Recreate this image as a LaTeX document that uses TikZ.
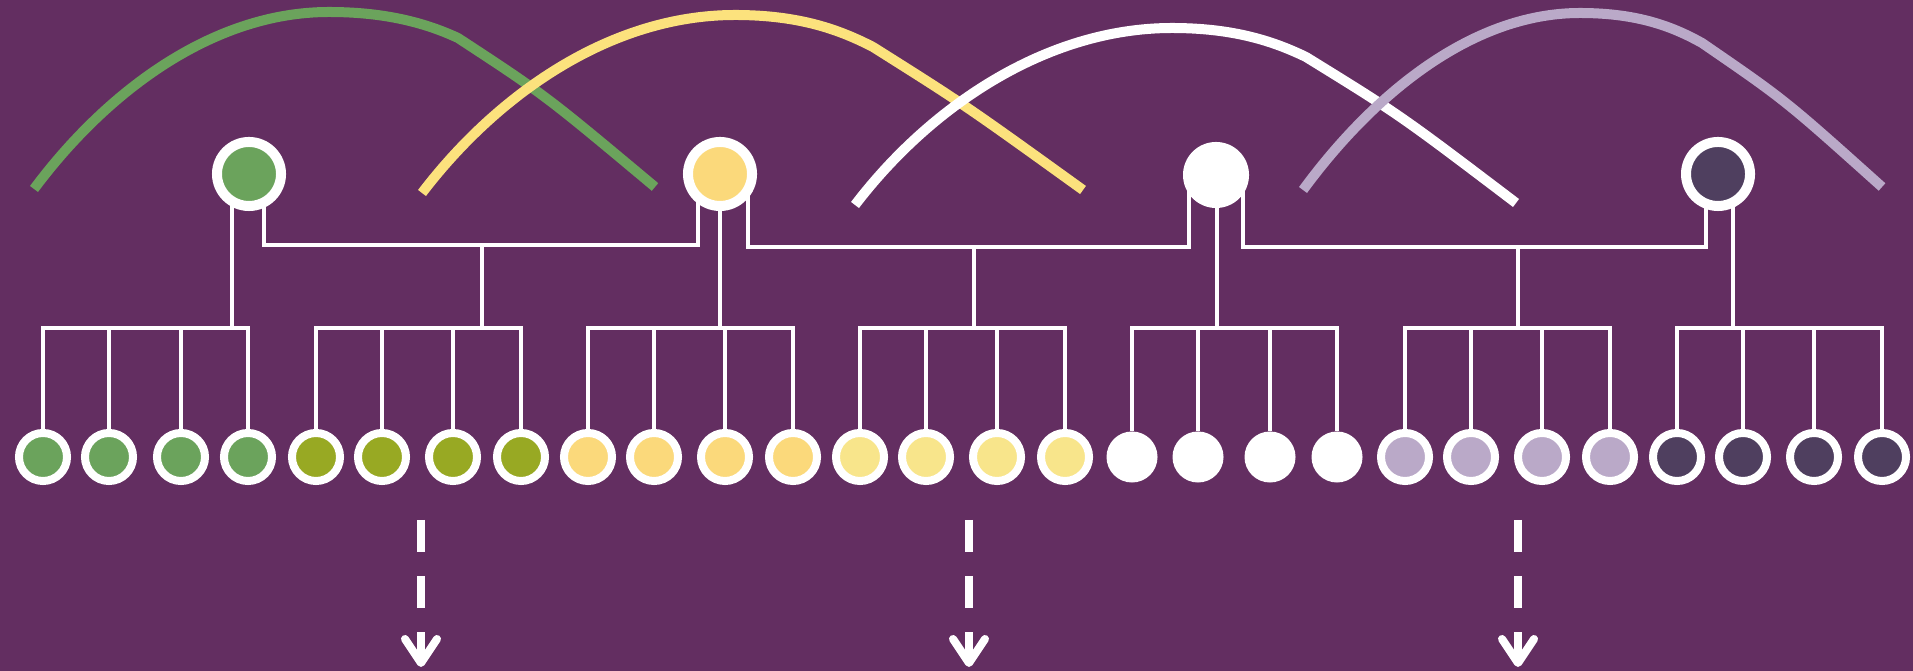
\documentclass[tikz,border=0pt]{standalone}
\usetikzlibrary{arrows.meta,backgrounds}
\definecolor{bgpurple}{RGB}{99,46,97}
\definecolor{cgreen}{RGB}{107,163,92}
\definecolor{colive}{RGB}{152,169,35}
\definecolor{cyellow}{RGB}{251,217,123}
\definecolor{cpale}{RGB}{248,229,139}
\definecolor{clav}{RGB}{186,169,200}
\definecolor{cdark}{RGB}{79,63,95}
\definecolor{arcyellow}{RGB}{252,226,125}
\begin{document}
\begin{tikzpicture}[x=0.01cm,y=-0.01cm,
  parent/.style={circle,inner sep=0pt,outer sep=0pt,minimum size=0.64cm,draw=white,line width=0.1cm,fill=#1},
  solidparent/.style={circle,inner sep=0pt,outer sep=0pt,minimum size=0.66cm,fill=white},
  kid/.style={circle,inner sep=0pt,outer sep=0pt,minimum size=0.48cm,draw=white,line width=0.08cm,fill=#1},
  solidkid/.style={circle,inner sep=0pt,outer sep=0pt,minimum size=0.51cm,fill=white},
  link/.style={draw=white,line width=0.04cm},
  arcline/.style={line width=0.1cm},
  downarrow/.style={white,line width=0.08cm,dash pattern=on 0.32cm off 0.24cm,
    -{Straight Barb[length=0.24cm,width=0.32cm,line width=0.08cm,round]}}]
\useasboundingbox (0,0) rectangle (1913,671);

% parents
\node[parent=cgreen] (p1) at (249,174) {};
\node[parent=cyellow] (p2) at (720,174) {};
\node[solidparent] (p3) at (1216,175) {};
\node[parent=cdark] (p4) at (1718,174) {};

% children
\foreach \g/\col/\a/\b/\c/\d in {0/cgreen/43/109/181/248, 1/colive/316/382/453/521,
  2/cyellow/588/654/725/793, 3/cpale/860/926/997/1065, 5/clav/1405/1471/1542/1610,
  6/cdark/1677/1743/1814/1882}{
  \foreach \x [count=\i from 0] in {\a,\b,\c,\d}
    \node[kid=\col] (c\g\i) at (\x,457) {};
}
\foreach \x [count=\i from 0] in {1132,1198,1270,1337}
  \node[solidkid] (c4\i) at (\x,457) {};

\begin{scope}[on background layer]
  \fill[bgpurple] (0,0) rectangle (1913,671);
  \foreach \g/\jx in {0/232,1/482,2/720,3/974,4/1217,5/1518,6/1733}{
    \coordinate (j\g) at (\jx,328);
    \draw[link] (c\g0) |- (j\g) -| (c\g3);
    \draw[link] (c\g1) -- (c\g1 |- j\g);
    \draw[link] (c\g2) -- (c\g2 |- j\g);
  }
  \draw[link] (j0) -- (j0 |- p1);
  \draw[link] (j2) -- (j2 |- p2);
  \draw[link] (j4) -- (j4 |- p3);
  \draw[link] (j6) -- (j6 |- p4);
  \coordinate (m1) at (482,245);
  \coordinate (m2) at (974,247);
  \coordinate (m3) at (1518,247);
  \draw[link] ([xshift=0.15cm]p1.center) |- (m1) -| ([xshift=-0.22cm]p2.center);
  \draw[link] ([xshift=0.28cm]p2.center) |- (m2) -| ([xshift=-0.27cm]p3.center);
  \draw[link] ([xshift=0.27cm]p3.center) |- (m3) -| ([xshift=-0.12cm]p4.center);
  \draw[link] (m1) -- (j1);
  \draw[link] (m2) -- (j3);
  \draw[link] (m3) -- (j5);
\end{scope}

% arcs
\draw[arcline,cgreen] (34,189) .. controls (104,95) and (210,12) .. (329,12)
  .. controls (390,12) and (430,25) .. (458,38) .. controls (545,95) .. (655,187);
\draw[arcline,arcyellow] (422,193) .. controls (496,96) and (609,15) .. (735,15)
  .. controls (800,15) and (840,30) .. (873,47) .. controls (965,105) .. (1083,190);
\draw[arcline,white] (855,205) .. controls (929,108) and (1045,28) .. (1172,28)
  .. controls (1235,28) and (1275,42) .. (1306,57) .. controls (1400,115) .. (1516,203);
\draw[arcline,clav] (1303,190) .. controls (1369,100) and (1468,13) .. (1580,13)
  .. controls (1640,13) and (1675,28) .. (1702,43) .. controls (1785,100) .. (1882,187);

% arrows
\foreach \k/\x in {1/421,2/969,3/1518}{
  \coordinate (as\k) at (\x,520);
  \coordinate (ae\k) at (\x,667);
  \draw[downarrow] (as\k) -- (ae\k);
}
\end{tikzpicture}
\end{document}
